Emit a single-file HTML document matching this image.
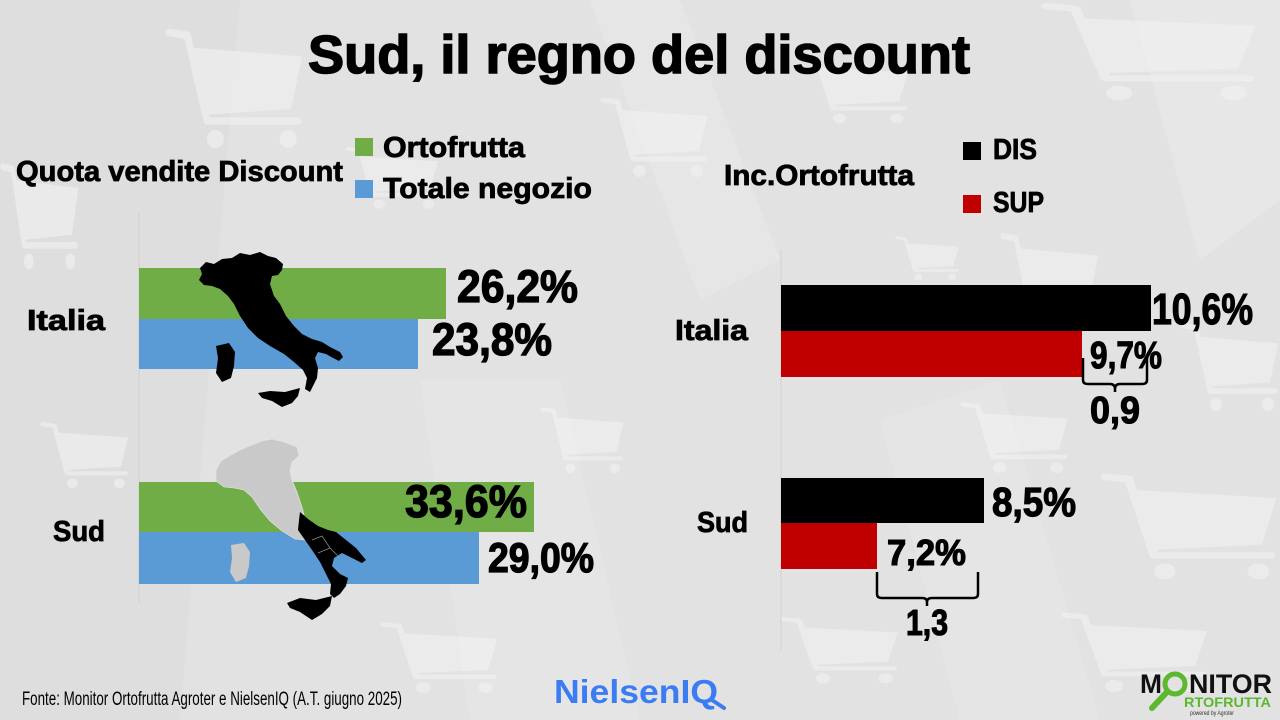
<!DOCTYPE html>
<html>
<head>
<meta charset="utf-8">
<style>
html,body{margin:0;padding:0;background:#e2e2e2;}
svg{display:block;}
.b{font-family:"Liberation Sans Narrow","Liberation Sans",sans-serif;font-weight:bold;fill:#000;}
.r{font-family:"Liberation Sans Narrow","Liberation Sans",sans-serif;fill:#000;}
</style>
</head>
<body>
<svg width="1280" height="720" viewBox="0 0 1280 720" xmlns="http://www.w3.org/2000/svg">
<defs>
  <symbol id="cart" viewBox="0 0 100 90" preserveAspectRatio="none">
    <path d="M3,5 L16,7 L30,64 L95,64" fill="none" stroke="#f2f2f2" stroke-width="5" stroke-linecap="round" stroke-linejoin="round"/>
    <polygon points="19,15 98,21 90,56 28,60" fill="#f2f2f2"/>
    <circle cx="36" cy="76" r="6" fill="#f2f2f2"/>
    <circle cx="88" cy="76" r="6" fill="#f2f2f2"/>
  </symbol>
</defs>

<!-- background -->
<rect x="0" y="0" width="1280" height="720" fill="#e2e2e2"/>
<polygon points="0,0 240,0 180,720 0,720" fill="#dcdcdc" opacity="0.6"/>
<polygon points="590,0 680,0 780,260 700,300" fill="#e8e8e8" opacity="0.7"/>
<polygon points="1130,0 1280,0 1280,200 1200,260" fill="#e9e9e9" opacity="0.7"/>
<polygon points="420,380 560,380 640,720 470,720" fill="#e7e7e7" opacity="0.6"/>
<polygon points="880,420 1000,380 1100,720 960,720" fill="#e7e7e7" opacity="0.5"/>
<polygon points="0,430 140,300 140,720 0,720" fill="#dddddd" opacity="0.5"/>

<g opacity="0.6">
  <use href="#cart" x="165" y="25" width="140" height="135"/>
  <use href="#cart" x="345" y="145" width="95" height="70"/>
  <use href="#cart" x="600" y="95" width="110" height="90"/>
  <use href="#cart" x="800" y="55" width="110" height="75"/>
  <use href="#cart" x="1040" y="0" width="220" height="110"/>
  <use href="#cart" x="895" y="235" width="65" height="50"/>
  <use href="#cart" x="540" y="405" width="85" height="75"/>
  <use href="#cart" x="1180" y="320" width="100" height="100"/>
  <use href="#cart" x="0" y="160" width="80" height="120"/>
  <use href="#cart" x="1000" y="230" width="100" height="110"/>
  <use href="#cart" x="1100" y="470" width="180" height="120"/>
  <use href="#cart" x="380" y="620" width="120" height="80"/>
  <use href="#cart" x="780" y="615" width="120" height="75"/>
  <use href="#cart" x="1060" y="610" width="150" height="90"/>
  <use href="#cart" x="40" y="420" width="90" height="75"/>
  <use href="#cart" x="960" y="400" width="110" height="80"/>
</g>

<!-- Title -->
<text class="b" x="308" y="73" font-size="54" textLength="662" lengthAdjust="spacingAndGlyphs" stroke="#000" stroke-width="1.5">Sud, il regno del discount</text>

<!-- Left header & legend -->
<text class="b" x="16" y="181" font-size="29" textLength="327" lengthAdjust="spacingAndGlyphs" stroke="#000" stroke-width="0.8">Quota vendite Discount</text>
<rect x="355" y="138" width="18" height="18" fill="#70ad47"/>
<text class="b" x="383" y="157" font-size="29" textLength="142" lengthAdjust="spacingAndGlyphs" stroke="#000" stroke-width="0.8">Ortofrutta</text>
<rect x="355" y="180" width="18" height="18" fill="#5b9bd5"/>
<text class="b" x="383" y="198" font-size="29" textLength="209" lengthAdjust="spacingAndGlyphs" stroke="#000" stroke-width="0.8">Totale negozio</text>

<!-- Right header & legend -->
<text class="b" x="724" y="185" font-size="29" textLength="190" lengthAdjust="spacingAndGlyphs" stroke="#000" stroke-width="0.8">Inc.Ortofrutta</text>
<rect x="963" y="142" width="18" height="18" fill="#000"/>
<text class="b" x="993" y="159" font-size="29" textLength="44" lengthAdjust="spacingAndGlyphs" stroke="#000" stroke-width="0.8">DIS</text>
<rect x="963" y="195" width="18" height="18" fill="#c00000"/>
<text class="b" x="993" y="212" font-size="29" textLength="51" lengthAdjust="spacingAndGlyphs" stroke="#000" stroke-width="0.8">SUP</text>

<!-- Left axis -->
<line x1="139" y1="213" x2="139" y2="602" stroke="#cfcfcf" stroke-width="1"/>

<!-- Left bars -->
<rect x="139" y="268" width="307" height="51" fill="#70ad47"/>
<rect x="139" y="319" width="279" height="50" fill="#5b9bd5"/>
<rect x="139" y="482" width="395" height="50" fill="#70ad47"/>
<rect x="139" y="532" width="340" height="52" fill="#5b9bd5"/>

<!-- Italy map (black) -->
<g fill="#000">
  <path d="M200,268 L206,262 L214,264 L222,259 L232,258 L240,253 L250,255 L260,252 L268,256 L276,258 L283,264 L282,270 L278,275 L272,276 L270,284 L274,296 L280,304 L286,316 L294,326 L302,334 L312,339 L322,342 L330,347 L340,352 L343,357 L339,361 L333,358 L326,354 L318,352 L315,358 L318,368 L317,378 L313,386 L310,392 L305,389 L307,378 L303,370 L294,362 L284,354 L270,346 L258,338 L248,328 L240,316 L234,304 L228,296 L220,289 L212,286 L204,285 L199,280 L202,274 Z"/>
  <path d="M216,346 L229,343 L235,352 L234,366 L231,378 L222,382 L216,373 L218,358 Z"/>
  <path d="M258,393 L270,391 L285,392 L300,388 L298,396 L292,403 L282,407 L272,401 L262,398 Z"/>
</g>

<!-- Sud map -->
<g>
  <path d="M216,470 L221,461 L231,455 L240,450 L252,445 L262,441 L272,439 L284,442 L297,447 L299,456 L292,462 L290,470 L292,480 L297,492 L301,504 L304,514 L300,522 L300,530 L305,540 L295,539 L282,531 L270,521 L260,509 L252,497 L244,490 L234,488 L224,487 L216,481 Z" fill="#c9c9c9" stroke="#e6e6e6" stroke-width="0.6"/>
  <path d="M231,545 L244,543 L250,552 L249,566 L246,578 L236,582 L230,572 L232,558 Z" fill="#c9c9c9"/>
  <path d="M300,512 L308,519 L318,526 L328,530 L336,532 L346,540 L356,548 L366,560 L362,563 L352,558 L342,553 L334,558 L332,566 L340,574 L348,578 L346,586 L340,594 L334,598 L330,594 L331,584 L326,574 L320,562 L312,550 L305,540 L298,530 L299,520 Z" fill="#000"/>
  <path d="M287,603 L300,598 L316,600 L332,596 L330,606 L322,614 L312,620 L300,612 L290,608 Z" fill="#000"/>
  <path d="M312,540 L322,536 L330,548 M318,553 L330,548 L338,556" fill="none" stroke="#888" stroke-width="0.8"/>
</g>

<!-- Left labels -->
<text class="b" x="27" y="330" font-size="29" textLength="78" lengthAdjust="spacingAndGlyphs" stroke="#000" stroke-width="0.8">Italia</text>
<text class="b" x="53" y="541" font-size="29" textLength="52" lengthAdjust="spacingAndGlyphs" stroke="#000" stroke-width="0.8">Sud</text>

<!-- Left values -->
<text class="b" x="457" y="302" font-size="45" textLength="121" lengthAdjust="spacingAndGlyphs" stroke="#000" stroke-width="1.3">26,2%</text>
<text class="b" x="432" y="355" font-size="45" textLength="120" lengthAdjust="spacingAndGlyphs" stroke="#000" stroke-width="1.3">23,8%</text>
<text class="b" x="405" y="517" font-size="45" textLength="122" lengthAdjust="spacingAndGlyphs" stroke="#000" stroke-width="1.3">33,6%</text>
<text class="b" x="488" y="572" font-size="42" textLength="106" lengthAdjust="spacingAndGlyphs" stroke="#000" stroke-width="1.3">29,0%</text>

<!-- Right axis -->
<line x1="781" y1="250" x2="781" y2="650" stroke="#d2d2d2" stroke-width="1"/>

<!-- Right bars -->
<rect x="781" y="285" width="370" height="46" fill="#000"/>
<rect x="781" y="331" width="301" height="46" fill="#c00000"/>
<rect x="781" y="478" width="203" height="45" fill="#000"/>
<rect x="781" y="523" width="96" height="46" fill="#c00000"/>

<!-- Right labels -->
<text class="b" x="675" y="340" font-size="29" textLength="73" lengthAdjust="spacingAndGlyphs" stroke="#000" stroke-width="0.8">Italia</text>
<text class="b" x="697" y="532" font-size="29" textLength="51" lengthAdjust="spacingAndGlyphs" stroke="#000" stroke-width="0.8">Sud</text>

<!-- Right values -->
<text class="b" x="1152" y="324" font-size="44" textLength="101" lengthAdjust="spacingAndGlyphs" stroke="#000" stroke-width="1.2">10,6%</text>
<text class="b" x="1090" y="368" font-size="38" textLength="72" lengthAdjust="spacingAndGlyphs" stroke="#000" stroke-width="1.1">9,7%</text>
<text class="b" x="1090" y="423" font-size="38" textLength="50" lengthAdjust="spacingAndGlyphs" stroke="#000" stroke-width="1.1">0,9</text>
<text class="b" x="992" y="516" font-size="41" textLength="84" lengthAdjust="spacingAndGlyphs" stroke="#000" stroke-width="1.2">8,5%</text>
<text class="b" x="887" y="565" font-size="36" textLength="79" lengthAdjust="spacingAndGlyphs" stroke="#000" stroke-width="1.1">7,2%</text>
<text class="b" x="906" y="635" font-size="36" textLength="42" lengthAdjust="spacingAndGlyphs" stroke="#000" stroke-width="1.1">1,3</text>

<!-- Brackets -->
<path d="M1083,358 L1083,380 Q1083,384 1088,384 L1110,384 Q1115,384 1115,389 L1115,392 M1115,389 Q1115,384 1120,384 L1142,384 Q1147,384 1147,380 L1147,358" fill="none" stroke="#000" stroke-width="2.5"/>
<path d="M877,572 L877,594 Q877,598 882,598 L922,598 Q927,598 927,602 L927,606 M927,602 Q927,598 932,598 L973,598 Q978,598 978,594 L978,572" fill="none" stroke="#000" stroke-width="2.5"/>

<!-- Footer -->
<text class="r" x="22" y="705" font-size="19" textLength="380" lengthAdjust="spacingAndGlyphs">Fonte: Monitor Ortofrutta Agroter e NielsenIQ (A.T. giugno 2025)</text>

<text x="554" y="703" font-family="Liberation Sans, sans-serif" font-weight="bold" font-size="33" fill="#3b7cf3" textLength="164" lengthAdjust="spacingAndGlyphs">NielsenIQ</text>
<path d="M712,700 L724,708" stroke="#3b7cf3" stroke-width="4" stroke-linecap="round"/>

<!-- Monitor Ortofrutta logo -->
<text x="1140" y="693" font-family="Liberation Sans, sans-serif" font-weight="bold" font-size="27" fill="#111" textLength="22" lengthAdjust="spacingAndGlyphs">M</text>
<circle cx="1175" cy="684" r="10" fill="none" stroke="#5cb82e" stroke-width="5"/>
<line x1="1167" y1="692" x2="1152" y2="708" stroke="#5cb82e" stroke-width="6" stroke-linecap="round"/>
<text x="1189" y="693" font-family="Liberation Sans, sans-serif" font-weight="bold" font-size="27" fill="#111" textLength="83" lengthAdjust="spacingAndGlyphs">NITOR</text>
<text x="1184" y="707" font-family="Liberation Sans, sans-serif" font-weight="bold" font-size="14" fill="#5cb82e" textLength="87" lengthAdjust="spacingAndGlyphs">RTOFRUTTA</text>
<text x="1190" y="715" font-family="Liberation Sans, sans-serif" font-size="6" fill="#333" textLength="44" lengthAdjust="spacingAndGlyphs">powered by Agroter</text>
</svg>
</body>
</html>
